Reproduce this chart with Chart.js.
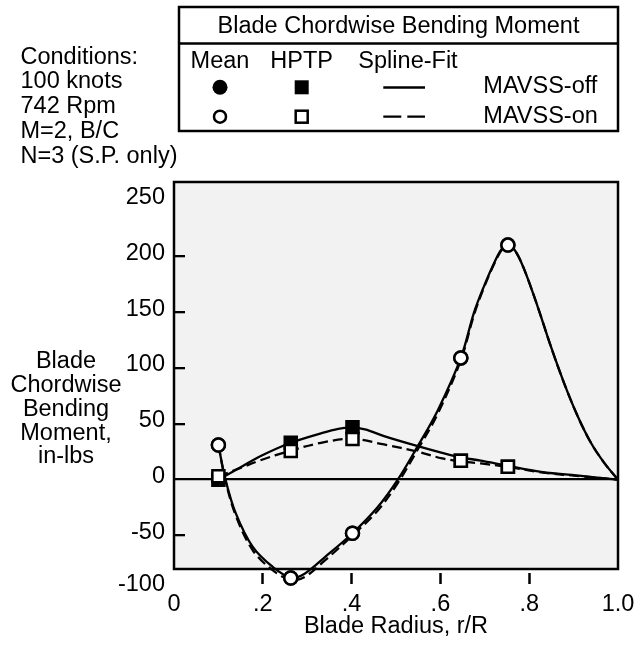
<!DOCTYPE html>
<html>
<head>
<meta charset="utf-8">
<script src="https://cdn.jsdelivr.net/npm/chart.js@4.4.1/dist/chart.umd.min.js"></script>
<style>
  html, body { margin: 0; padding: 0; background: #fff; }
  canvas { display: block; }
</style>
</head>
<body>
<canvas id="myChart" width="635" height="645"></canvas>
<script>
// measured stations (r/R) and values (in-lbs)
const pointR = [0.100, 0.263, 0.402, 0.646, 0.752];
const meanOff = [31, -88, -48, 109, 210];
const meanOn = [31, -88, -48, 109, 210];
const hptpOff = [0, 33, 47, 17, 11.6];
const hptpOn = [3, 25.7, 36.4, 17, 11.6];

// spline fits
const meanFitR = [0.100, 0.116, 0.139, 0.177, 0.222, 0.265, 0.295, 0.338, 0.402, 0.458, 0.504, 0.549, 0.594, 0.646, 0.676, 0.699, 0.721, 0.737, 0.752, 0.770, 0.789, 0.819, 0.849, 0.879, 0.909, 0.939, 0.969, 1.000];
const meanFitOff = [31, 0, -30, -60, -78, -88, -84, -70, -48, -25, 0, 30, 62, 109, 150, 174, 194, 206, 211, 204, 188, 155, 119, 86, 57, 33, 15, 0];
const meanFitOn = [31, -1, -32, -63, -81, -90, -87, -73, -50, -28, -3, 27, 59, 107, 148, 173, 193, 205, 211, 204, 188, 155, 119, 86, 57, 33, 15, 0];

const hptpFitOffR = [0.100, 0.150, 0.192, 0.263, 0.331, 0.370, 0.400, 0.430, 0.473, 0.549, 0.604, 0.645, 0.691, 0.750, 0.827, 0.917, 1.000];
const hptpFitOff = [0, 11, 20.5, 33, 41.5, 45.5, 46.5, 45, 39, 30, 24, 20, 17, 12.5, 7, 3.3, 0];
const hptpFitOnR = [0.100, 0.150, 0.192, 0.263, 0.331, 0.400, 0.473, 0.549, 0.604, 0.645, 0.691, 0.750, 0.827, 0.917, 1.000];
const hptpFitOn = [3, 10.5, 17, 26, 33, 36.5, 31.5, 25, 19, 16.5, 14.5, 11.6, 6.5, 3, 0];

const xTicks = [0, 0.2, 0.4, 0.6, 0.8, 1.0];
const xTickLabels = ['0', '.2', '.4', '.6', '.8', '1.0'];
const yTicks = [-100, -50, 0, 50, 100, 150, 200, 250];
const yTickLabels = ['-100', '-50', '0', '50', '100', '150', '200', '250'];

const conditions = ['Conditions:', '100 knots', '742 Rpm', 'M=2, B/C', 'N=3 (S.P. only)'];
const yTitle = ['Blade', 'Chordwise', 'Bending', 'Moment,', 'in-lbs'];

const FONT = '"Liberation Sans", Arial, Helvetica, sans-serif';
Chart.defaults.font.family = FONT;
Chart.defaults.font.size = 23.5;
Chart.defaults.color = '#000';

const pts = (xs, ys) => xs.map((x, i) => ({ x: x, y: ys[i] }));

function marker(label, ys, style, fill, radius) {
  return {
    label: label, data: pts(pointR, ys), showLine: false,
    pointStyle: style, pointRadius: radius, pointHoverRadius: radius,
    pointBackgroundColor: fill, pointBorderColor: '#000', pointBorderWidth: 2.5,
    clip: false
  };
}
function curve(label, xs, ys, dash) {
  return {
    label: label, data: pts(xs, ys), showLine: true, pointRadius: 0,
    borderColor: '#000', borderWidth: 2.3, borderDash: dash,
    tension: 0.35, fill: false, clip: false
  };
}

const hidden = 'rgba(0,0,0,0)';

const framePlugin = {
  id: 'frame',
  beforeDraw(chart) {
    const { ctx, chartArea: a } = chart;
    ctx.save();
    ctx.fillStyle = '#f2f2f2';
    ctx.fillRect(a.left, a.top, a.right - a.left, a.bottom - a.top);
    ctx.restore();
  },
  beforeDatasetsDraw(chart) {
    const { ctx, chartArea: a } = chart;
    ctx.save();
    ctx.strokeStyle = '#000';
    ctx.lineWidth = 2.5;
    ctx.strokeRect(a.left, a.top, a.right - a.left, a.bottom - a.top);
    ctx.restore();
  },
  afterDraw(chart) {
    const ctx = chart.ctx;
    ctx.save();
    ctx.fillStyle = '#000';
    ctx.strokeStyle = '#000';
    ctx.font = '23.5px ' + FONT;
    ctx.textBaseline = 'alphabetic';

    // conditions block
    ctx.textAlign = 'left';
    conditions.forEach((t, i) => ctx.fillText(t, 20.5, 63.5 + i * 24.8));

    // y axis title
    ctx.textAlign = 'center';
    yTitle.forEach((t, i) => ctx.fillText(t, 66, 367.8 + i * 23.9));

    // legend box
    ctx.lineWidth = 2.5;
    ctx.strokeRect(179, 7, 439, 124);
    ctx.beginPath();
    ctx.moveTo(179, 43.5);
    ctx.lineTo(618, 43.5);
    ctx.stroke();
    ctx.fillText('Blade Chordwise Bending Moment', 398.5, 33.3);
    ctx.fillText('Mean', 220, 68.3);
    ctx.fillText('HPTP', 301.7, 68.3);
    ctx.fillText('Spline-Fit', 408, 68.3);
    ctx.textAlign = 'left';
    ctx.fillText('MAVSS-off', 483.3, 93.3);
    ctx.fillText('MAVSS-on', 483.3, 122.7);

    // row 1: filled
    ctx.beginPath();
    ctx.arc(220, 87.3, 7.5, 0, Math.PI * 2);
    ctx.fill();
    ctx.fillRect(294.7, 80.3, 14, 14);
    ctx.lineWidth = 2.3;
    ctx.beginPath();
    ctx.moveTo(383.3, 87.5);
    ctx.lineTo(425, 87.5);
    ctx.stroke();

    // row 2: open
    ctx.fillStyle = '#fff';
    ctx.lineWidth = 2.5;
    ctx.beginPath();
    ctx.arc(220, 116.7, 6, 0, Math.PI * 2);
    ctx.fill();
    ctx.stroke();
    ctx.fillRect(295.7, 110.7, 12, 12);
    ctx.strokeRect(295.7, 110.7, 12, 12);
    ctx.lineWidth = 2.3;
    ctx.setLineDash([18, 6]);
    ctx.beginPath();
    ctx.moveTo(383.3, 116.7);
    ctx.lineTo(425, 116.7);
    ctx.stroke();
    ctx.restore();
  }
};

new Chart(document.getElementById('myChart').getContext('2d'), {
  type: 'scatter',
  data: {
    datasets: [
      marker('Mean MAVSS-on', meanOn, 'circle', '#fff', 6.5),
      marker('HPTP MAVSS-on', hptpOn, 'rect', '#fff', 8.5),
      marker('Mean MAVSS-off', meanOff, 'circle', '#000', 6.5),
      marker('HPTP MAVSS-off', hptpOff, 'rect', '#000', 8.5),
      curve('Mean fit MAVSS-off', meanFitR, meanFitOff, []),
      curve('Mean fit MAVSS-on', meanFitR, meanFitOn, [10, 5]),
      curve('HPTP fit MAVSS-off', hptpFitOffR, hptpFitOff, []),
      curve('HPTP fit MAVSS-on', hptpFitOnR, hptpFitOn, [10, 5])
    ]
  },
  options: {
    responsive: false,
    animation: false,
    events: [],
    layout: { padding: { left: 0, right: 17, top: 182, bottom: 0 } },
    plugins: { legend: { display: false }, tooltip: { enabled: false } },
    scales: {
      x: {
        type: 'linear', min: 0, max: 1,
        afterBuildTicks: s => { s.ticks = xTicks.map(v => ({ value: v })); },
        afterFit: s => { s.height = 76; s.paddingLeft = 0; s.paddingRight = 0; },
        ticks: { autoSkip: false, maxRotation: 0, padding: 6, callback: (v, i) => xTickLabels[i] },
        grid: {
          drawOnChartArea: false, drawTicks: true, tickLength: 15, tickWidth: 2.5,
          tickColor: c => (c.tick && (c.tick.value === 0 || c.tick.value === 1)) ? hidden : '#000',
          tickBorderDash: [0, 4, 11, 100]
        },
        border: { display: false },
        title: { display: true, text: 'Blade Radius, r/R', padding: { top: 0, bottom: 4 } }
      },
      y: {
        type: 'linear', min: -80, max: 266.5,
        afterBuildTicks: s => { s.ticks = yTicks.map(v => ({ value: Math.max(v, s.min - 17) })); },
        afterFit: s => { s.width = 174; s.paddingTop = 0; s.paddingBottom = 0; },
        ticks: { autoSkip: false, padding: 9, labelOffset: -3, callback: (v, i) => yTickLabels[i] },
        grid: {
          drawTicks: false, lineWidth: 2.3,
          color: c => {
            if (!c.tick) return '#000';
            const v = c.tick.value;
            return (v < -80 || v >= 250) ? hidden : '#000';
          }
        },
        border: {
          display: false,
          dash: c => (c.tick && c.tick.value !== 0) ? [11, 2000] : []
        }
      }
    }
  },
  plugins: [framePlugin]
});
</script>
</body>
</html>
